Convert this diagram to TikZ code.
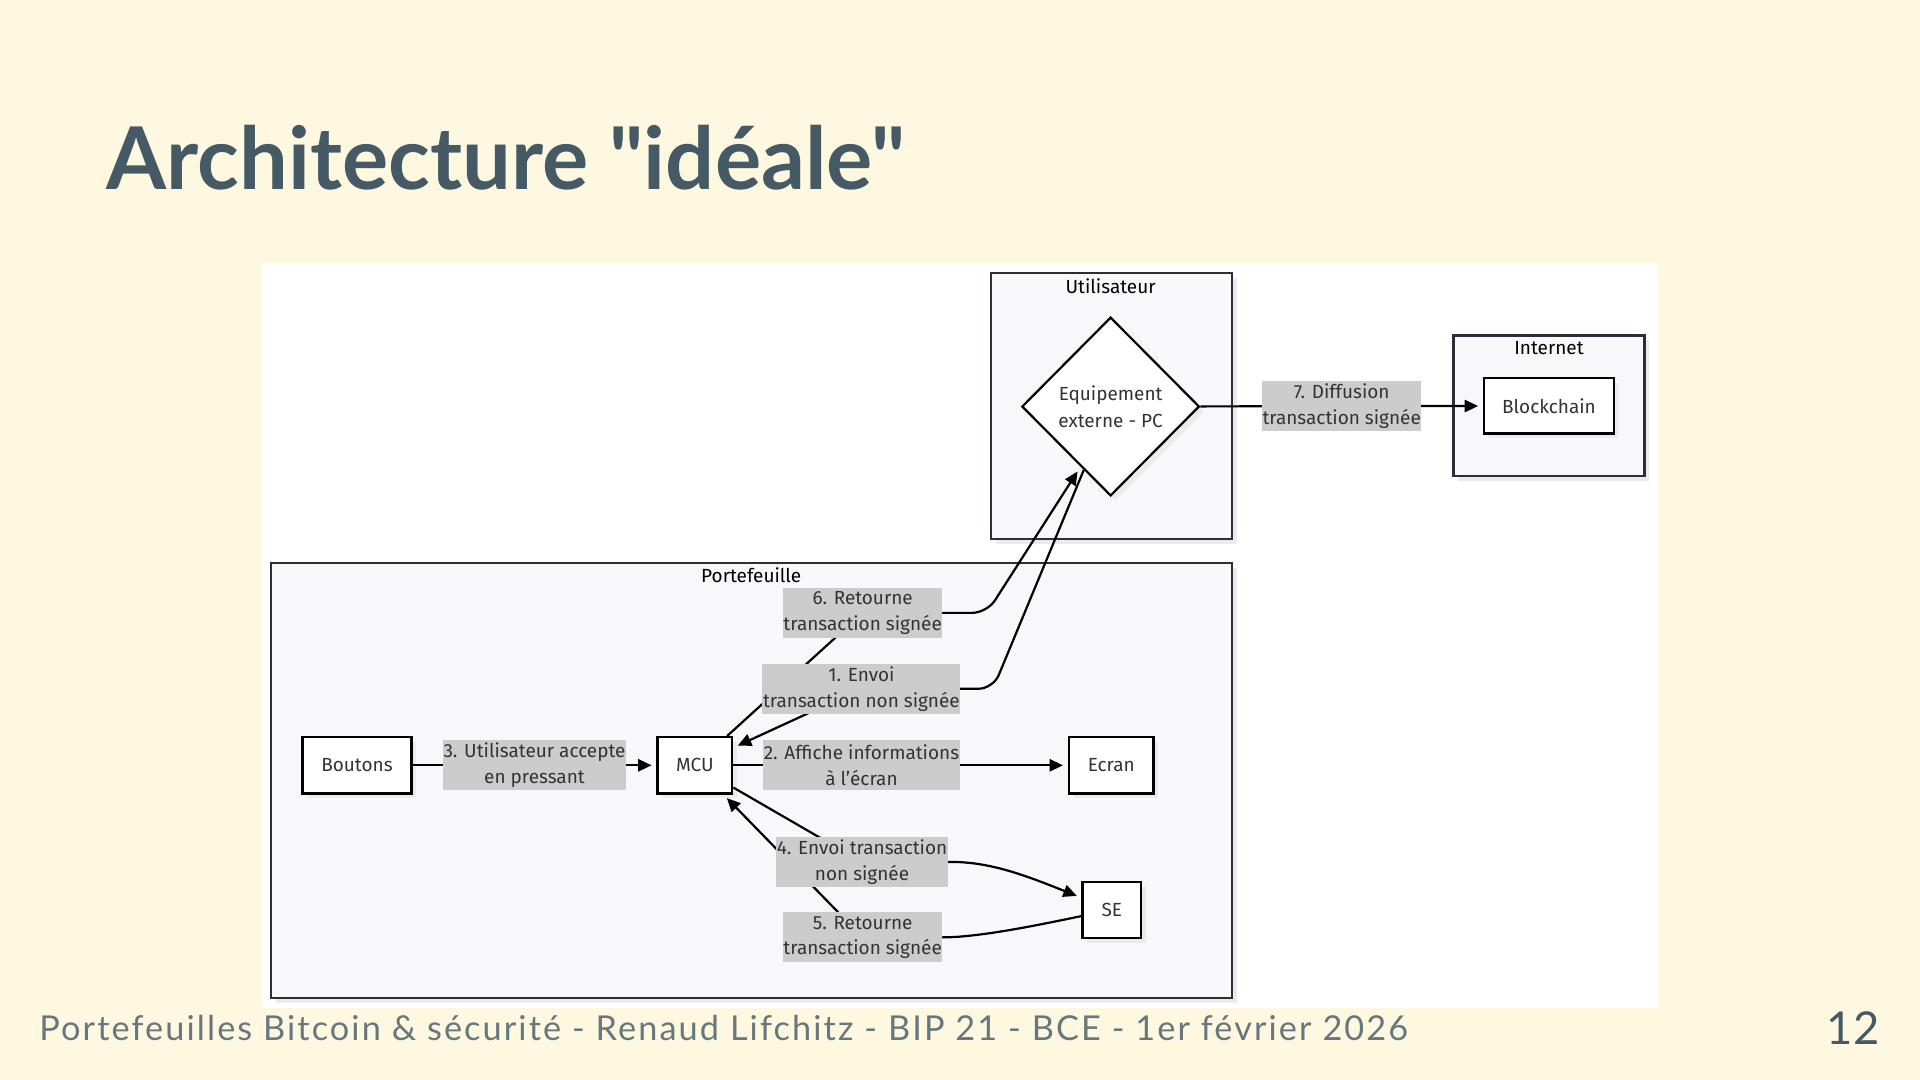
\documentclass[tikz,border=0pt]{standalone}
\usepackage{fontspec}
\setmainfont{Fira Sans}
\newfontfamily\latofont{Lato}
\newfontfamily\latofoot{Lato}[LetterSpace=6.1]
\usetikzlibrary{arrows.meta,shapes.geometric,shadows}

\definecolor{slidebg}{HTML}{FFF8E1}
\definecolor{titlegray}{HTML}{455A64}
\definecolor{footgray}{HTML}{66777D}
\definecolor{clusterbg}{HTML}{F8F8FA}
\definecolor{clusterline}{HTML}{2E2E38}
\definecolor{labelbg}{HTML}{CCCCCC}
\definecolor{labeltext}{HTML}{333333}

\tikzset{
  shade box/.style={drop shadow={shadow xshift=4pt, shadow yshift=-4pt, fill=black!8, opacity=1}},
  box/.style={draw=black, line width=1.8pt, fill=white, minimum height=46pt, inner sep=0pt,
    font=\fontsize{15.5}{21}\selectfont, text=labeltext, shade box},
  cluster/.style={draw=clusterline, line width=1.8pt, fill=clusterbg, inner sep=0pt, shade box},
  clustertitle/.style={font=\fontsize{15.5}{21}\selectfont, text=black, inner sep=0pt},
  lbl/.style={fill=labelbg, text=labeltext, font=\fontsize{15.5}{21}\selectfont, align=center,
    inner xsep=0.5pt, inner ysep=0pt, minimum height=41pt},
  edge/.style={line width=1.8pt, -{Triangle[length=11pt,width=10pt]}}
}

\begin{document}
\begin{tikzpicture}[x=1pt,y=-1pt]
\fill[slidebg] (0,0) rectangle (1568,882);
\useasboundingbox (0,0) rectangle (1568,882);
\fill[white] (214,215) rectangle (1353,823);

% slide title and footer
\node[anchor=base west, inner sep=0pt, text=titlegray,
  font=\latofont\bfseries\fontsize{70.7}{86}\selectfont] (title) at (87,155) {Architecture "idéale"};
\node[anchor=base west, inner sep=0pt, text=footgray,
  font=\latofoot\fontsize{28}{34}\selectfont] (footer) at (32,850)
  {Portefeuilles Bitcoin \& sécurité - Renaud Lifchitz - BIP 21 - BCE - 1er février 2026};
\node[anchor=base east, inner sep=0pt, text=titlegray,
  font=\latofont\fontsize{37}{44}\selectfont] (pagenum) at (1535,853) {12};

% groups
\node[cluster, minimum width=197pt, minimum height=217pt] (user) at (907.5,331.5) {};
\node[cluster, minimum width=156pt, minimum height=115pt] (inet) at (1265,331.5) {};
\node[cluster, minimum width=785pt, minimum height=355pt] (wallet) at (613.5,637.5) {};
\node[clustertitle] (usertitle) at (907,234) {Utilisateur};
\node[clustertitle] (inettitle) at (1265,284) {Internet};
\node[clustertitle] (wallettitle) at (613.5,470) {Portefeuille};

% components
\node[box, diamond, minimum width=145pt, minimum height=146pt, align=center,
  font=\fontsize{15.5}{22}\selectfont] (dev) at (907,332) {Equipement\\externe - PC};
\node[box, minimum width=106pt, minimum height=45pt] (bc) at (1265,331.5) {Blockchain};
\node[box, minimum width=89pt] (btn) at (291.5,625) {Boutons};
\node[box, minimum width=61pt] (mcu) at (567.5,625) {MCU};
\node[box, minimum width=69pt] (ecran) at (907.5,625) {Ecran};
\node[box, minimum width=48pt] (se) at (908,743) {SE};

% bends and label spots
\coordinate (d1) at (885,384);
\coordinate (d6) at (880,385);
\coordinate (k1) at (811,562.5);
\coordinate (k6) at (806,500.5);
\coordinate (k4) at (774,704);
\coordinate (k5) at (770,765.5);
\coordinate (l1) at (703.5,562.5);
\coordinate (l4) at (704,704);
\coordinate (l5) at (704.5,765.5);
\coordinate (l6) at (704.5,500.5);

% flows
\draw[edge, shorten >=4pt] (btn) -- node[lbl] (lab3) {3. Utilisateur accepte\\en pressant} (mcu);
\draw[edge, shorten >=4pt] (mcu) -- node[lbl, pos=0.383] (lab2) {2. Affiche informations\\à l'écran} (ecran);
\draw[edge, shorten >=4pt] (dev) -- node[lbl] (lab7) {7. Diffusion\\transaction signée} (bc);
\draw[edge, shorten >=4pt, rounded corners=12pt] (d1) -- (k1) -- (l1) -- (mcu);
\draw[edge, rounded corners=12pt] (mcu) -- (l6) -- (k6) -- (d6);
\draw[edge, shorten >=4pt] (mcu) -- (l4) -- (k4) .. controls (808,703) and (840,716) .. (se);
\draw[edge, shorten >=4pt] (se) .. controls (850,755) and (800,765.5) .. (k5) -- (l5) -- (mcu);

\node[lbl] (lab1) at (l1) {1. Envoi\\transaction non signée};
\node[lbl] (lab6) at (l6) {6. Retourne\\transaction signée};
\node[lbl] (lab4) at (l4) {4. Envoi transaction\\non signée};
\node[lbl] (lab5) at (l5) {5. Retourne\\transaction signée};
\end{tikzpicture}
\end{document}
